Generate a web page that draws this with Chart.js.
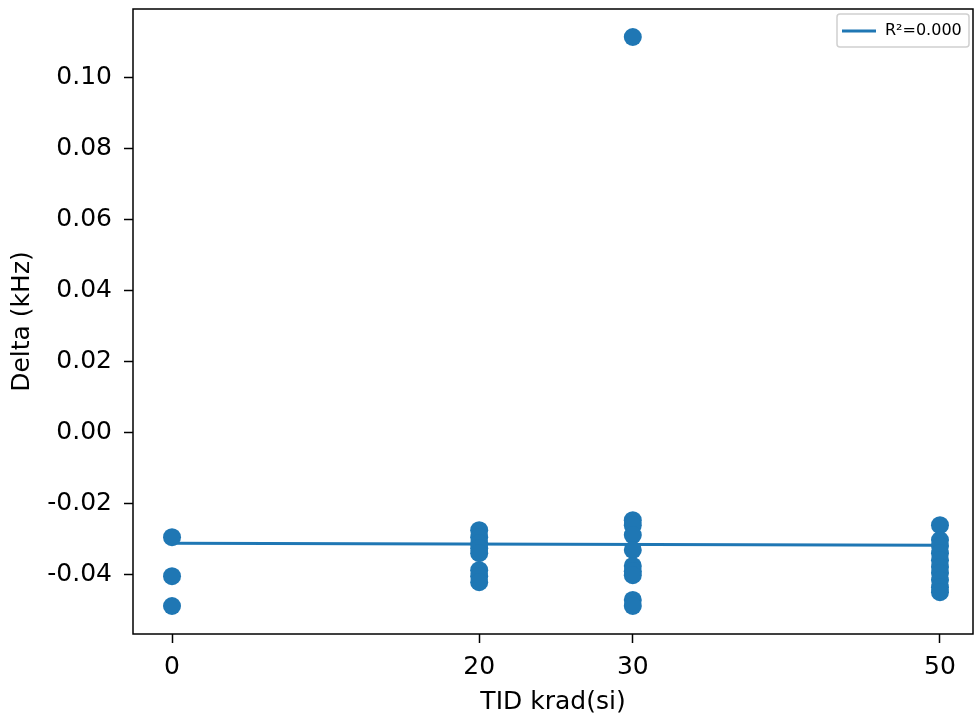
<!DOCTYPE html>
<html>
<head>
<meta charset="utf-8">
<script src="https://cdn.jsdelivr.net/npm/chart.js@4/dist/chart.umd.min.js"></script>
<style>
html,body{margin:0;padding:0;background:#fff;overflow:hidden;}
canvas{display:block;}
</style>
</head>
<body>
<canvas id="c" width="974" height="718"></canvas>
<script>
// ---- data ----
const dose0 = [-0.0296, -0.0406, -0.0490];
const dose20 = [-0.0276, -0.0296, -0.0313, -0.0327, -0.0341, -0.0389, -0.0406, -0.0423];
const dose30 = [0.1115, -0.0248, -0.0262, -0.0290, -0.0332, -0.0377, -0.0392, -0.0403, -0.0473, -0.0490];
const dose50 = [-0.0262, -0.0304, -0.0321, -0.0341, -0.0361, -0.0380, -0.0397, -0.0417, -0.0437, -0.0451];
const doses = [0, 20, 30, 50];
const fitX = [0, 50];
const fitY = [-0.0313, -0.0319];
const fitLabel = 'R²=0.000';
const xTicks = [0, 20, 30, 50];
const yTicks = [-0.04, -0.02, 0.00, 0.02, 0.04, 0.06, 0.08, 0.10];
const xTitle = 'TID krad(si)';
const yTitle = 'Delta (kHz)';

const groups = [dose0, dose20, dose30, dose50];
const scatterPts = [];
groups.forEach((g, i) => g.forEach(v => scatterPts.push({x: doses[i], y: v})));
const fitPts = fitX.map((x, i) => ({x: x, y: fitY[i]}));

const BLUE = '#1f77b4';
const FONT = 'DejaVu Sans';

const frame = {
  id: 'frame',
  afterLayout(chart) {
    // stretch the plot area to the right edge, like the original figure
    const x = chart.scales.x;
    const r = chart.width - 1;
    x.right = r;
    x.width = r - x.left;
    chart.chartArea.right = r;
    chart.chartArea.width = r - chart.chartArea.left;
    x.configure();
  },
  afterDraw(chart) {
    const {ctx, chartArea: a} = chart;
    ctx.save();
    ctx.strokeStyle = '#000';
    ctx.lineWidth = 1.5;
    ctx.strokeRect(a.left, a.top, a.right - a.left, a.bottom - a.top);
    // legend
    const x0 = 837, y0 = 14, w = 132, h = 33;
    ctx.fillStyle = 'rgba(255,255,255,0.8)';
    ctx.strokeStyle = '#d0d0d0';
    ctx.lineWidth = 1.5;
    ctx.beginPath();
    ctx.roundRect(x0, y0, w, h, 3);
    ctx.fill();
    ctx.stroke();
    ctx.strokeStyle = BLUE;
    ctx.lineWidth = 3;
    ctx.beginPath();
    ctx.moveTo(842, 31);
    ctx.lineTo(876, 31);
    ctx.stroke();
    ctx.fillStyle = '#000';
    ctx.font = '16px ' + FONT;
    ctx.textBaseline = 'middle';
    ctx.fillText(chart.data.datasets[1].label, 885, 31);
    ctx.restore();
  }
};

new Chart(document.getElementById('c'), {
  type: 'scatter',
  data: {
    datasets: [
      {
        label: 'data',
        data: scatterPts,
        backgroundColor: BLUE,
        borderColor: BLUE,
        pointRadius: 9,
        pointHoverRadius: 9,
        borderWidth: 0
      },
      {
        type: 'line',
        label: fitLabel,
        data: fitPts,
        borderColor: BLUE,
        borderWidth: 3,
        pointRadius: 0,
        fill: false
      }
    ]
  },
  options: {
    responsive: false,
    animation: false,
    layout: {padding: {top: 8, right: 1, left: 0, bottom: 0}},
    plugins: {legend: {display: false}, tooltip: {enabled: false}},
    scales: {
      x: {
        type: 'linear',
        min: -2.54,
        max: 52.15,
        afterBuildTicks: s => { s.ticks = xTicks.map(v => ({value: v})); },
        afterFit: s => { s.height = 84; s.paddingLeft = 0; s.paddingRight = 0; },
        grid: {drawOnChartArea: false, tickLength: 9, color: '#000', tickWidth: 1.5},
        border: {display: false},
        ticks: {color: '#000', font: {family: FONT, size: 25}, padding: 9, maxRotation: 0,
          callback: v => String(v)},
        title: {display: true, text: xTitle, color: '#000', font: {family: FONT, size: 25}, padding: {top: 0, bottom: 1}}
      },
      y: {
        type: 'linear',
        min: -0.0569,
        max: 0.1194,
        afterBuildTicks: s => { s.ticks = yTicks.map(v => ({value: v})); },
        afterFit: s => { s.width = 133; s.paddingTop = 0; s.paddingBottom = 0; },
        grid: {drawOnChartArea: false, tickLength: 9, color: '#000', tickWidth: 1.5},
        border: {display: false},
        ticks: {color: '#000', font: {family: FONT, size: 25}, padding: 12,
          callback: v => v.toFixed(2)},
        title: {display: true, text: yTitle, color: '#000', font: {family: FONT, size: 25}, padding: {top: 7, bottom: 0}}
      }
    }
  },
  plugins: [frame]
});
</script>
</body>
</html>
